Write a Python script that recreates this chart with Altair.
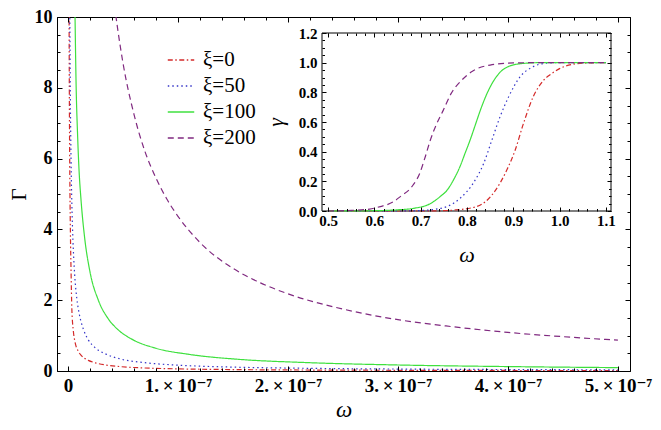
import altair as alt
import pandas as pd

# ---------------- data ----------------
series_names = ["ξ=0", "ξ=50", "ξ=100", "ξ=200"]
series_colors = ["#d42a2a", "#3535c8", "#3ee03e", "#802a80"]
series_dashes = [[5, 2.5, 1.5, 2.5], [1.5, 3], [1, 0], [6, 4]]

# main panel: omega in units of 1e-7, Gamma
xi0_w = [0.008, 0.01, 0.012, 0.015, 0.018, 0.022, 0.028, 0.035, 0.048, 0.065, 0.09, 0.12,
         0.185, 0.25, 0.35, 0.49, 0.7, 1.0, 1.5, 2.0, 3.0, 4.0, 5.0]
xi0_G = [12.5, 10.0, 8.0, 6.2, 5.0, 3.9, 2.8, 1.75, 1.15, 0.8, 0.58, 0.44,
         0.3, 0.23, 0.165, 0.12, 0.085, 0.06, 0.04, 0.03, 0.02, 0.015, 0.012]

xi50_w = [0.014, 0.017, 0.02, 0.025, 0.03, 0.036, 0.045, 0.06, 0.08, 0.1, 0.14, 0.185,
          0.25, 0.35, 0.49, 0.7, 1.0, 1.5, 2.0, 3.0, 4.0, 5.0]
xi50_G = [11.5, 9.7, 8.2, 6.6, 5.5, 4.6, 3.7, 2.75, 2.05, 1.65, 1.18, 0.88,
          0.65, 0.47, 0.33, 0.235, 0.165, 0.11, 0.083, 0.055, 0.041, 0.033]

xi100_w = [0.055, 0.064, 0.073, 0.088, 0.1, 0.118, 0.15, 0.2, 0.276, 0.367, 0.45, 0.58,
           0.79, 1.1, 1.55, 2.15, 3.0, 4.0, 5.0]
xi100_G = [12.0, 10.0, 8.2, 6.6, 5.7, 4.85, 3.8, 2.8, 2.0, 1.47, 1.18, 0.9,
           0.65, 0.47, 0.33, 0.24, 0.17, 0.125, 0.095]

xi200_w = [0.40, 0.45, 0.5, 0.6, 0.7, 0.8, 0.9, 1.0, 1.2, 1.5, 1.75, 2.0, 2.5, 3.0,
           3.5, 4.0, 4.5, 5.0]
xi200_G = [10.9, 9.7, 8.7, 7.25, 6.2, 5.45, 4.85, 4.37, 3.63, 2.9, 2.49, 2.18, 1.75, 1.45,
           1.25, 1.09, 0.97, 0.87]

# inset: omega, gamma
in0_w = [0.5, 0.7, 0.75, 0.771, 0.821, 0.857, 0.886, 0.904, 0.922, 0.943, 0.965, 0.98,
         1.0, 1.03, 1.06, 1.1]
in0_g = [0.0, 0.0, 0.002, 0.006, 0.03, 0.12, 0.276, 0.41, 0.59, 0.77, 0.88, 0.92,
         0.96, 0.99, 0.998, 1.0]

in50_w = [0.5, 0.65, 0.7, 0.721, 0.757, 0.785, 0.814, 0.836, 0.854, 0.872, 0.89, 0.915,
          0.943, 0.972, 1.0, 1.1]
in50_g = [0.0, 0.0, 0.003, 0.008, 0.03, 0.085, 0.19, 0.32, 0.48, 0.64, 0.77, 0.906,
          0.973, 0.997, 1.0, 1.0]

in100_w = [0.5, 0.6, 0.65, 0.685, 0.721, 0.742, 0.757, 0.771, 0.785, 0.796, 0.807, 0.818,
           0.829, 0.843, 0.861, 0.882, 0.915, 0.958, 1.1]
in100_g = [0.0, 0.002, 0.008, 0.018, 0.05, 0.097, 0.14, 0.21, 0.30, 0.39, 0.48, 0.58,
           0.68, 0.79, 0.894, 0.962, 0.993, 1.0, 1.0]

in200_w = [0.5, 0.55, 0.59, 0.613, 0.64, 0.656, 0.681, 0.698, 0.71, 0.721, 0.735, 0.749,
           0.766, 0.789, 0.81, 0.85, 0.9, 0.95, 1.1]
in200_g = [0.0, 0.004, 0.013, 0.03, 0.06, 0.097, 0.164, 0.254, 0.366, 0.479, 0.59, 0.68,
           0.793, 0.883, 0.939, 0.984, 0.998, 1.0, 1.0]

# tick values
main_x_major = [0, 1, 2, 3, 4, 5]
main_x_minor = [round(0.2 * i, 1) for i in range(26)]
main_y_major = [0, 2, 4, 6, 8, 10]
main_y_minor = [0.5 * i for i in range(21)]
inset_x_major = [0.5, 0.6, 0.7, 0.8, 0.9, 1.0, 1.1]
inset_x_minor = [round(0.5 + 0.02 * i, 2) for i in range(31)]
inset_y_major = [0.0, 0.2, 0.4, 0.6, 0.8, 1.0, 1.2]
inset_y_minor = [round(0.05 * i, 2) for i in range(25)]

# ---------------- tables ----------------
main_rows = []
for nm, ws, gs in zip(series_names, [xi0_w, xi50_w, xi100_w, xi200_w],
                      [xi0_G, xi50_G, xi100_G, xi200_G]):
    for w, g in zip(ws, gs):
        main_rows.append({"w": w, "G": g, "series": nm})
main_df = pd.DataFrame(main_rows)

inset_rows = []
for nm, ws, gs in zip(series_names, [in0_w, in50_w, in100_w, in200_w],
                      [in0_g, in50_g, in100_g, in200_g]):
    for w, g in zip(ws, gs):
        inset_rows.append({"w": w, "g": g, "series": nm})
inset_df = pd.DataFrame(inset_rows)

# ---------------- layout ----------------
W, H = 573, 354
FONT = "'Liberation Serif', 'Times New Roman', Times, 'DejaVu Serif', serif"
INSET_XR = [265, 554]
INSET_YR = [194, 16]

main_xs = alt.Scale(domain=[-0.1, 5.11], nice=False, zero=False)
main_ys = alt.Scale(domain=[0, 10], nice=False, zero=False)
inset_xs = alt.Scale(domain=[0.487, 1.111], nice=False, zero=False, range=INSET_XR)
inset_ys = alt.Scale(domain=[0, 1.2], nice=False, zero=False, range=INSET_YR)

color_scale = alt.Scale(domain=series_names, range=series_colors)
dash_scale = alt.Scale(domain=series_names, range=series_dashes)

leg = alt.Legend(title=None, orient="none", legendX=110, legendY=29, symbolType="stroke",
                 symbolSize=700, symbolStrokeWidth=1.3, labelFont=FONT, labelFontSize=21,
                 labelOffset=8, rowPadding=2, padding=0, labelColor="black")


def tick_axis(orient, offset, size, values):
    return alt.Axis(orient=orient, offset=offset, tickSize=size, values=values, labels=False,
                    domain=False, grid=False, title=None, tickColor="black", tickWidth=1,
                    zindex=1)


def dummy(xscale, yscale, xaxis, yaxis, xv, yv):
    return alt.Chart(pd.DataFrame({"a": [xv], "b": [yv]})).mark_point(opacity=0).encode(
        x=alt.X("a:Q", scale=xscale, axis=xaxis),
        y=alt.Y("b:Q", scale=yscale, axis=yaxis),
    )


main_x_axis = alt.Axis(
    orient="bottom", offset=-5, tickSize=5, values=main_x_major, domain=False, grid=False,
    labelPadding=5, labelFont=FONT, labelFontSize=19, labelFontWeight=700,
    labelColor="black", tickColor="black",
    labelExpr="datum.value == 0 ? '0' : format(datum.value, 'd') + '.\u2009×\u200910\u207b\u2077'",
    title="ω", titleFont=FONT, titleFontSize=23, titleFontStyle="italic",
    titleFontWeight="normal", titleColor="black", titleX=W / 2, titleY=50,
    titleBaseline="alphabetic", titleAlign="center", zindex=1)

main_y_axis = alt.Axis(
    orient="left", offset=-5, tickSize=5, values=main_y_major, domain=False, grid=False,
    labelPadding=5, labelFont=FONT, labelFontSize=18, labelFontWeight=700,
    labelColor="black", tickColor="black", format="d",
    title="Γ", titleFont=FONT, titleFontSize=21, titleFontWeight="normal",
    titleColor="black", titleX=-37, titleY=H / 2, titleAngle=270,
    titleBaseline="alphabetic", titleAlign="center", zindex=1)

main_lines = alt.Chart(main_df).mark_line(clip=True, strokeWidth=1.2,
                                          interpolate="monotone").encode(
    x=alt.X("w:Q", scale=main_xs, axis=main_x_axis),
    y=alt.Y("G:Q", scale=main_ys, axis=main_y_axis),
    color=alt.Color("series:N", scale=color_scale, legend=leg),
    strokeDash=alt.StrokeDash("series:N", scale=dash_scale, legend=leg),
)

main_minor = dummy(main_xs, main_ys, tick_axis("bottom", -3, 3, main_x_minor),
                   tick_axis("left", -3, 3, main_y_minor), 0.0, 0.0)
main_top_major = dummy(main_xs, main_ys, tick_axis("top", -5, 5, main_x_major),
                       tick_axis("right", -5, 5, main_y_major), 0.0, 0.0)
main_top_minor = dummy(main_xs, main_ys, tick_axis("top", -3, 3, main_x_minor),
                       tick_axis("right", -3, 3, main_y_minor), 0.0, 0.0)

inset_frame = alt.Chart(pd.DataFrame({"x0": [0.487], "x1": [1.111], "y0": [0.0],
                                      "y1": [1.2]})).mark_rect(
    fill="white", stroke="black", strokeWidth=1).encode(
    x=alt.X("x0:Q", scale=inset_xs, axis=None), x2="x1:Q",
    y=alt.Y("y0:Q", scale=inset_ys, axis=None), y2="y1:Q")

ib = H - INSET_YR[0]  # distance of inset bottom from plot bottom
il = INSET_XR[0]
ir = W - INSET_XR[1]
it = INSET_YR[1]

inset_x_axis = alt.Axis(
    orient="bottom", offset=-(ib + 4), tickSize=4, values=inset_x_major, domain=False,
    grid=False, labelPadding=2, labelFont=FONT, labelFontSize=15, labelFontWeight=700,
    labelColor="black", tickColor="black", format=".1f",
    title="ω", titleFont=FONT, titleFontSize=22, titleFontStyle="italic",
    titleFontWeight="normal", titleColor="black", titleX=(INSET_XR[0] + INSET_XR[1]) / 2,
    titleY=54, titleBaseline="alphabetic", titleAlign="center", zindex=1)

inset_y_axis = alt.Axis(
    orient="left", offset=-(il + 4), tickSize=4, values=inset_y_major, domain=False,
    grid=False, labelPadding=5, labelFont=FONT, labelFontSize=15, labelFontWeight=700,
    labelColor="black", tickColor="black", format=".1f",
    title="γ", titleFont=FONT, titleFontSize=22, titleFontStyle="italic",
    titleFontWeight="normal", titleColor="black", titleX=-(il + 4) + 225,
    titleY=(INSET_YR[0] + INSET_YR[1]) / 2, titleAngle=270, titleBaseline="alphabetic",
    titleAlign="center", zindex=1)

inset_lines = alt.Chart(inset_df).mark_line(strokeWidth=1.2, interpolate="monotone").encode(
    x=alt.X("w:Q", scale=inset_xs, axis=inset_x_axis),
    y=alt.Y("g:Q", scale=inset_ys, axis=inset_y_axis),
    color=alt.Color("series:N", scale=color_scale, legend=leg),
    strokeDash=alt.StrokeDash("series:N", scale=dash_scale, legend=leg),
)

inset_minor = dummy(inset_xs, inset_ys, tick_axis("bottom", -(ib + 2.5), 2.5, inset_x_minor),
                    tick_axis("left", -(il + 2.5), 2.5, inset_y_minor), 0.8, 0.5)
inset_top_major = dummy(inset_xs, inset_ys, tick_axis("top", -(it + 4), 4, inset_x_major),
                        tick_axis("right", -(ir + 4), 4, inset_y_major), 0.8, 0.5)
inset_top_minor = dummy(inset_xs, inset_ys, tick_axis("top", -(it + 2.5), 2.5, inset_x_minor),
                        tick_axis("right", -(ir + 2.5), 2.5, inset_y_minor), 0.8, 0.5)

chart = alt.layer(
    main_lines, main_minor, main_top_major, main_top_minor,
    inset_frame, inset_lines, inset_minor, inset_top_major, inset_top_minor,
).resolve_scale(x="independent", y="independent").properties(
    width=W, height=H,
    autosize=alt.AutoSizeParams(type="none"),
    padding={"left": 49, "top": 9, "right": 23, "bottom": 52},
    background="white",
).configure_view(stroke="black", strokeWidth=1)

chart.save("out.html", embed_options={"renderer": "svg", "actions": False})
